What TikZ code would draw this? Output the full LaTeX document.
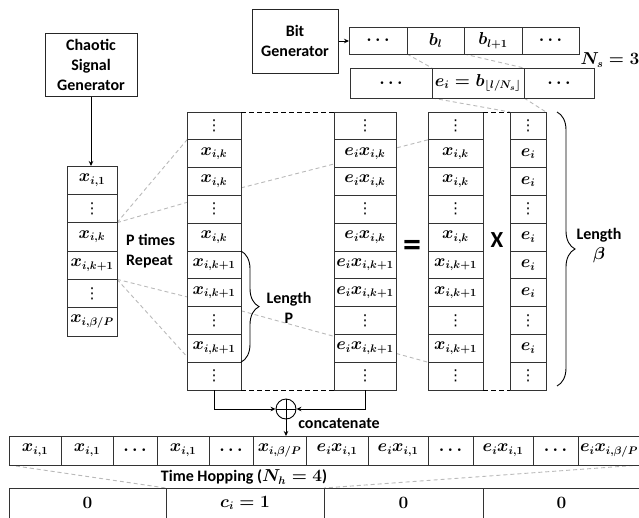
\documentclass[tikz,border=0pt]{standalone}
\usepackage[no-math]{fontspec}
\setmainfont{Carlito}
\newfontfamily\dejavu{DejaVu Sans}
\usetikzlibrary{arrows.meta,calc,decorations.pathreplacing,backgrounds}
\newcommand\smallvdots{\mbox{\dejavu\mdseries\fontsize{15}{15}\selectfont ⋮}}
\tikzset{
 cell/.style={draw=black!80, line width=0.9pt, fill=white, inner sep=0pt, outer sep=0pt},
 box/.style={draw=black!85, line width=1pt, fill=white, align=center, inner sep=0pt},
 guide/.style={draw=gray!55, line width=0.9pt, dash pattern=on 4pt off 3pt},
 bdash/.style={draw=black, line width=0.9pt, dash pattern=on 5pt off 3pt},
 arr/.style={draw=black, line width=0.9pt, -{Stealth[length=5pt,width=4.5pt]}},
 lbl/.style={inner sep=0pt, align=center},
 brc/.style={draw, line width=0.9pt, decorate, decoration={brace, amplitude=18pt}}
}
\begin{document}
\begin{tikzpicture}[x=1pt, y=-1pt, font=\fontsize{16}{20}\selectfont\bfseries\boldmath]
\useasboundingbox (0,0) rectangle (639,517);

% generators
\node[box, minimum width=92, minimum height=63] (cg) at (91,64.5) {Chaotic\\Signal\\Generator};
\node[box, minimum width=86, minimum height=64] (bg) at (295,41) {Bit\\Generator};

% left column
\foreach \t [count=\i] in {{x_{i,1}}, \smallvdots, {x_{i,k}}, {x_{i,k+1}}, \smallvdots, {x_{i,\beta/P}}}
  \node[cell, minimum width=50, minimum height=28.33] (L\i) at (92, {166+28.33*(\i-0.5)}) {$\t$};

% column 2
\foreach \t [count=\i] in {\smallvdots, {x_{i,k}}, {x_{i,k}}, \smallvdots, {x_{i,k}}, {x_{i,k+1}}, {x_{i,k+1}}, \smallvdots, {x_{i,k+1}}, \smallvdots}
  \node[cell, minimum width=54, minimum height=27.8] (A\i) at (214, {112+27.8*(\i-0.5)}) {$\t$};
% column 3
\foreach \t [count=\i] in {\smallvdots, {e_ix_{i,k}}, {e_ix_{i,k}}, \smallvdots, {e_ix_{i,k}}, {e_ix_{i,k+1}}, {e_ix_{i,k+1}}, \smallvdots, {e_ix_{i,k+1}}, \smallvdots}
  \node[cell, minimum width=62, minimum height=27.8] (B\i) at (365, {112+27.8*(\i-0.5)}) {$\t$};
% column 4
\foreach \t [count=\i] in {\smallvdots, {x_{i,k}}, {x_{i,k}}, \smallvdots, {x_{i,k}}, {x_{i,k+1}}, {x_{i,k+1}}, \smallvdots, {x_{i,k+1}}, \smallvdots}
  \node[cell, minimum width=55, minimum height=27.8] (C\i) at (455.5, {112+27.8*(\i-0.5)}) {$\t$};
% column 5
\foreach \t [count=\i] in {\smallvdots, e_i, e_i, \smallvdots, e_i, e_i, e_i, \smallvdots, e_i, \smallvdots}
  \node[cell, minimum width=36, minimum height=27.8] (D\i) at (528, {112+27.8*(\i-0.5)}) {$\t$};

% bit row
\foreach \p/\q/\t [count=\i] in {349/407/\cdots, 407/464/b_l, 464/522/{b_{l+1}}, 522/579/\cdots}
  \node[cell, minimum width={\q-\p}, minimum height=27] (b\i) at ({(\p+\q)/2}, 40.5) {$\t$};
% e row
\foreach \p/\q/\t [count=\i] in {350/432/\cdots, 432/524/{e_i = b_{\lfloor l/N_s\rfloor}}, 524/594/\cdots}
  \node[cell, minimum width={\q-\p}, minimum height=30] (e\i) at ({(\p+\q)/2}, 83) {$\t$};

% concatenated row
\foreach \p/\q/\t [count=\i] in {9/61/{x_{i,1}}, 61/113/{x_{i,1}}, 113/157/\cdots, 157/209/{x_{i,1}}, 209/253/\cdots, 253/306/{x_{i,\beta/P}}, 306/368/{e_ix_{i,1}}, 368/428/{e_ix_{i,1}}, 428/473/\cdots, 473/533/{e_ix_{i,1}}, 533/578/\cdots, 578/640/{e_ix_{i,\beta/P}}}
  \node[cell, minimum width={\q-\p}, minimum height=29] (R\i) at ({(\p+\q)/2}, 450.5) {$\t$};

% time hopping row
\foreach \p/\q/\t [count=\i] in {9/166/0, 166/324/{c_i = 1}, 324/483/0, 483/640/0}
  \node[cell, minimum width={\q-\p}, minimum height=30] (T\i) at ({(\p+\q)/2}, 503) {$\t$};

% labels
\node[lbl, anchor=west, align=left] (ptr) at (126,251) {P times\\Repeat};
\node[lbl] (lenP) at (289,308) {Length\\P};
\node[lbl] (lenB) at (599,246) {Length\\$\beta$};
\node[lbl, font=\fontsize{36}{36}\selectfont\bfseries] (eq) at (412,248) {=};
\node[lbl, font=\fontsize{23}{23}\selectfont\bfseries] (mul) at (497,240) {X};
\node[lbl] (ns) at (610,60) {$N_s = 3$};
\node[lbl] (cat) at (339,424) {concatenate};
\node[lbl] (th) at (244,477) {Time Hopping ($N_h = 4$)};

% arrows
\draw[arr] (cg.south) -- (cg.south |- L1.north);
\draw[arr] (bg.east) -- (bg.east -| b1.west);

\node[circle, draw, line width=0.9pt, minimum size=20pt, inner sep=0pt] (plus) at (286,409) {};
\draw[line width=0.9pt] (plus.north) -- (plus.south) (plus.west) -- (plus.east);
\draw[arr] (A10.south) |- (plus.west);
\draw[arr] (B10.south) |- (plus.east);
\draw[arr] (plus.south) -- (plus.south |- R6.north);

% braces
\draw[brc] (A6.north east) -- (A9.south east);
\coordinate (bt) at (557,112);
\coordinate (bb) at (557,386);
\draw[brc] (bt) -- (bb);

% black dashed frame
\draw[bdash] (A1.north east) -- (B1.north west);
\draw[bdash] (A10.south east) -- (B10.south west);
\draw[bdash] (C1.north east) -- (D1.north west);
\draw[bdash] (C10.south east) -- (D10.south west);

% gray guide lines
\begin{scope}[on background layer]
\draw[guide] (L3.north east) -- (A2.north west);
\draw[guide] (L3.north east) -- ($(A4.north west)!0.25!(A4.south west)$);
\draw[guide] (L4.south east) -- ($(A7.north west)!0.65!(A7.south west)$);
\draw[guide] (L4.south east) -- ($(A9.north west)!0.8!(A9.south west)$);
\draw[guide] ($(A3.north east)!0.73!(A3.south east)$) -- (C2.north west);
\draw[guide] ($(A8.north east)!0.15!(A8.south east)$) -- (C9.south west);
\draw[guide] (b2.south west) -- (e2.north west);
\draw[guide] (b2.south east) -- (e2.north east);
\draw[guide] (e2.south west) -- (D1.north west);
\draw[guide] (e2.south east) -- (D1.north east);
\draw[guide] (R1.south west) -- (T2.north west);
\draw[guide] (R12.south east) -- (T3.north west);
\end{scope}
\end{tikzpicture}
\end{document}
